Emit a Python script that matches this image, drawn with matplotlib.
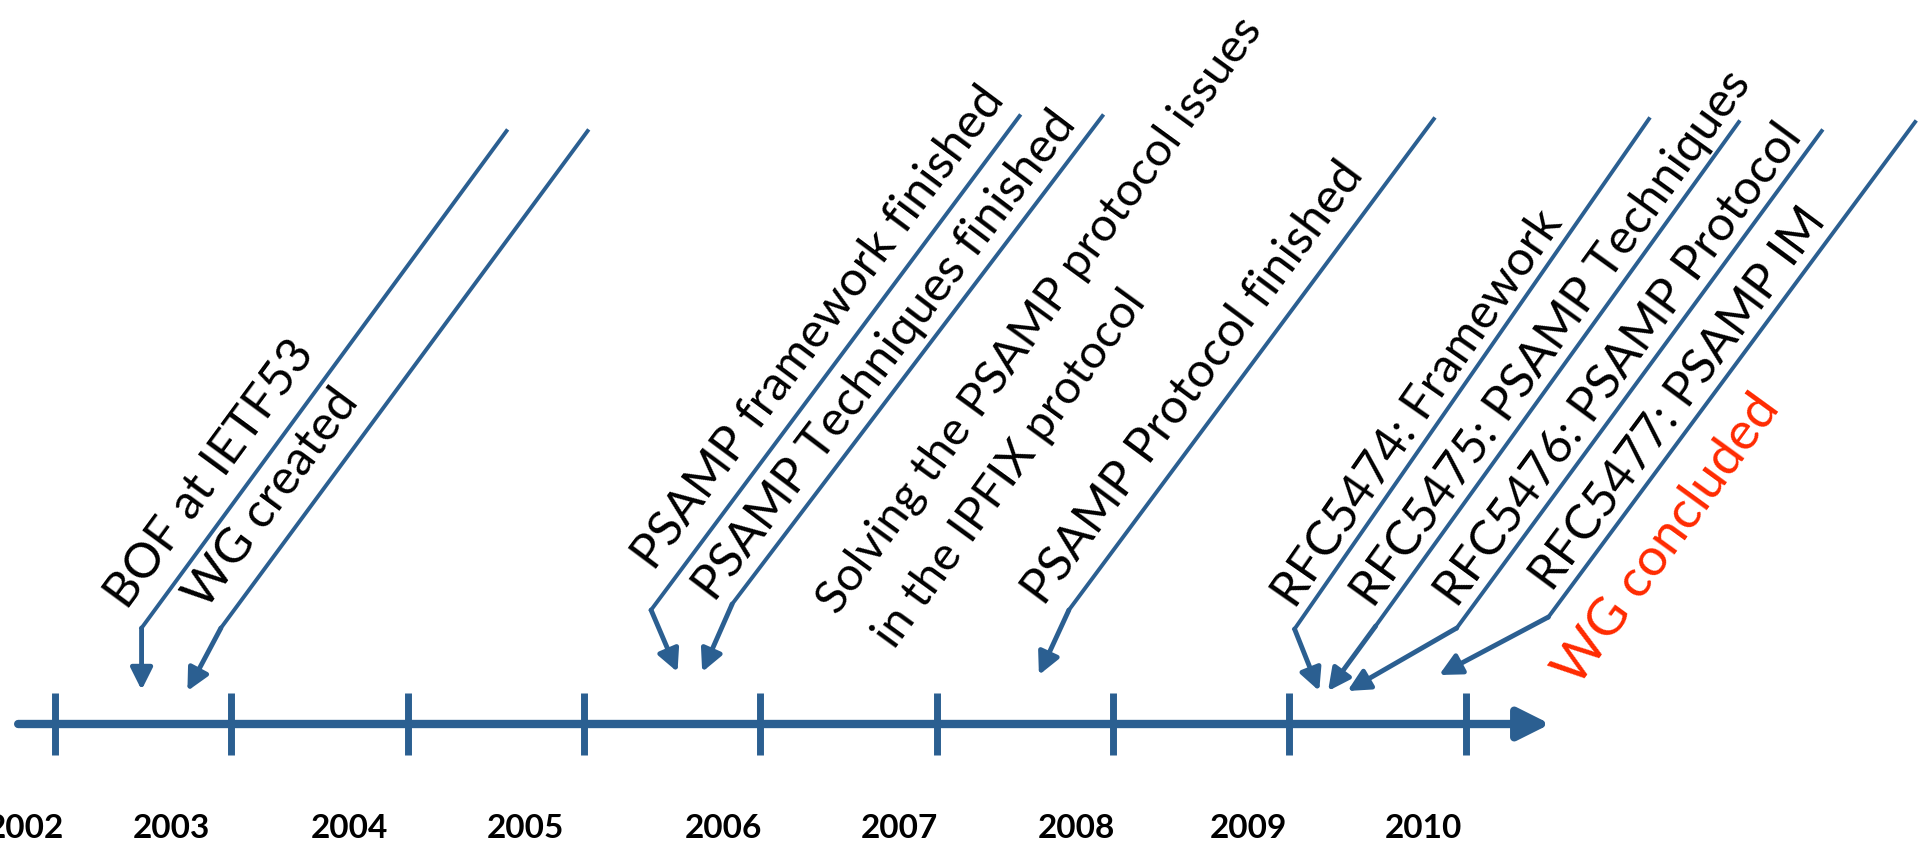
import numpy as np
import matplotlib.pyplot as plt

BLUE = '#2B5F91'
RED = '#FF2A00'

# timeline ticks (year boundaries) and year labels
tick_years = [2002, 2003, 2004, 2005, 2006, 2007, 2008, 2009, 2010]
year_labels = ['2002', '2003', '2004', '2005', '2006', '2007', '2008', '2009', '2010']
year_label_x = [2001.83, 2002.66, 2003.67, 2004.67, 2005.79, 2006.79, 2007.79, 2008.77, 2009.76]

# events: label, where the arrow hits the timeline, elbow of the leader line, top of leader line
event_labels = ['BOF at IETF53', 'WG created', 'PSAMP framework finished',
                'PSAMP Techniques finished', 'PSAMP Protocol finished',
                'RFC5474: Framework', 'RFC5475: PSAMP Techniques',
                'RFC5476: PSAMP Protocol', 'RFC5477: PSAMP IM']
event_x = [2002.49, 2002.75, 2005.53, 2005.67, 2007.58, 2009.17, 2009.22, 2009.33, 2009.85]
event_h = [34, 33, 52, 52, 49, 33, 33, 33, 49]
elbow_x = [2002.49, 2002.94, 2005.38, 2005.84, 2007.75, 2009.03, 2009.49, 2009.95, 2010.47]
elbow_h = [96, 96, 114, 120, 114, 95, 98, 96, 107]
top_x = [2004.56, 2005.02, 2007.47, 2007.94, 2009.82, 2011.04, 2011.55, 2012.02, 2012.55]
top_h = [593, 593, 608, 608, 605, 605, 602, 593, 602]
# where each label starts on its leader line, and how far it sits from it
label_start_h = [100, 100, 140, 112, 104, 108, 108, 108, 124]
label_gap = [22, 22, 20, 14, 22, 11, 11, 11, 11]

# free-standing notes
note_labels = ['Solving the PSAMP protocol issues', 'in the IPFIX protocol', 'WG concluded']
note_x = [2006.44, 2006.76, 2010.64]
note_h = [108, 74, 36]
note_colors = ['black', 'black', RED]
note_sizes = [34, 34, 38]

fig = plt.figure(figsize=(19.25, 8.47), dpi=100)
ax = fig.add_axes([0, 0, 1, 1])
ax.set_xlim(2001.687, 2012.606)
ax.set_ylim(-123, 724)
ax.axis('off')

# main timeline with arrow
ax.annotate('', xy=(2010.48, 0), xytext=(2001.79, 0),
            arrowprops=dict(arrowstyle='-|>', color=BLUE, lw=6, mutation_scale=48,
                            shrinkA=0, shrinkB=0))
for t in tick_years:
    ax.plot([t, t], [-31, 31], color=BLUE, lw=5, solid_capstyle='butt')

for x, lab in zip(year_label_x, year_labels):
    ax.text(x, -104, lab, ha='center', va='center', fontsize=24, fontweight='bold',
            family='Lato')

FS = 35
to_disp = ax.transData
to_data = ax.transData.inverted()
for i, lab in enumerate(event_labels):
    ax.plot([top_x[i], elbow_x[i]], [top_h[i], elbow_h[i]], color=BLUE, lw=2.8)
    ax.annotate('', xy=(event_x[i], event_h[i]), xytext=(elbow_x[i], elbow_h[i]),
                arrowprops=dict(arrowstyle='-|>', color=BLUE, lw=3.5, mutation_scale=33,
                                shrinkA=0, shrinkB=0))
    p0 = to_disp.transform((elbow_x[i], elbow_h[i]))
    p1 = to_disp.transform((top_x[i], top_h[i]))
    u = (p1 - p0) / np.hypot(*(p1 - p0))
    n = np.array([-u[1], u[0]])
    frac = (label_start_h[i] - elbow_h[i]) / (top_h[i] - elbow_h[i])
    anchor = p0 + frac * (p1 - p0) + label_gap[i] * n
    ang = np.degrees(np.arctan2(u[1], u[0]))
    ax.text(*to_data.transform(anchor), lab, rotation=ang, rotation_mode='anchor',
            ha='left', va='baseline', fontsize=FS, family='Lato')

for x, h, lab, c, s in zip(note_x, note_h, note_labels, note_colors, note_sizes):
    ax.text(x, h, lab, rotation=54, rotation_mode='anchor',
            ha='left', va='baseline', fontsize=s, family='Lato', color=c)

fig.savefig('out.png', dpi=100)
